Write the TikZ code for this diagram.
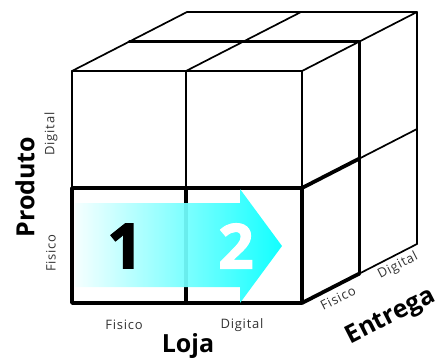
\documentclass[tikz,border=0pt]{standalone}
\usepackage{fontspec}
\setmainfont{Open Sans}
\newfontfamily\labelfont[LetterSpace=6]{Open Sans}
\newfontfamily\digitfont[FakeBold=2]{Open Sans Bold}
\usetikzlibrary{calc}
\begin{document}
\begin{tikzpicture}[x=1pt,y=-1pt,
  thinedge/.style={line width=1.7pt,line cap=round,line join=round},
  thickedge/.style={line width=3.8pt,line cap=round,line join=round},
  axislabel/.style={font=\bfseries\fontsize{25}{25}\selectfont,inner sep=0pt},
  ticklabel/.style={font=\labelfont\fontsize{13}{13}\selectfont,text=black!80,inner sep=0pt},
  digit/.style={font=\digitfont\fontsize{62}{62}\selectfont,inner sep=0pt}]
\useasboundingbox (0,0) rectangle (439,362);
% front face corners
\coordinate (A) at (72,71);  \coordinate (B) at (186,71);  \coordinate (C) at (302,71);
\coordinate (D) at (72,188); \coordinate (E) at (186,188); \coordinate (F) at (302,188);
\coordinate (G) at (72,303); \coordinate (H) at (186,303); \coordinate (I) at (302,303);
% half-depth and full-depth offsets
\coordinate (A1) at ($(A)+(57.5,-29.5)$); \coordinate (B1) at ($(B)+(57.5,-29.5)$);
\coordinate (C1) at ($(C)+(57.5,-29.5)$); \coordinate (F1) at ($(F)+(57.5,-29.5)$);
\coordinate (I1) at ($(I)+(57.5,-29.5)$);
\coordinate (A2) at ($(A)+(115,-59)$); \coordinate (B2) at ($(B)+(115,-59)$);
\coordinate (C2) at ($(C)+(115,-59)$); \coordinate (F2) at ($(F)+(115,-59)$);
\coordinate (I2) at ($(I)+(115,-59)$);
% thin edges
\draw[thinedge] (D) -- (A) -- (C) -- (F);
\draw[thinedge] (B) -- (E);
\draw[thinedge] (A) -- (A2) -- (C2) -- (I2);
\draw[thinedge] (B) -- (B2);
\draw[thinedge] (C) -- (C2);
\draw[thinedge] (F1) -- (F2);
\draw[thinedge] (I1) -- (I2);
% highlighted edges
\draw[thickedge] (D) rectangle (I);
\draw[thickedge] (E) -- (H);
\draw[thickedge] (A1) -- (C1) -- (I1);
\draw[thickedge] (F) -- (F1);
\draw[thickedge] (I) -- (I1);
% gradient arrow
\path[left color=cyan!4,right color=cyan,fill opacity=0.93]
  (75,203) coordinate (t0) -- (240,203) -- (240,189) -- (282,246) coordinate (tip)
  -- (240,303) -- (240,287) -- (75,287) -- cycle;
\node[digit,text=black] (one) at (125,246) {1};
\node[digit,text=white] (two) at (236,246) {2};
% axis labels
\node[axislabel,rotate=90] (produto) at (25,187) {Produto};
\node[ticklabel,rotate=90] (pd) at (51,134) {Digital};
\node[ticklabel,rotate=90] (pf) at (51,253) {Fisico};
\node[ticklabel] (lf) at (124,325) {Fisico};
\node[ticklabel] (ld) at (242,325) {Digital};
\node[axislabel] (loja) at (188,346) {Loja};
\node[ticklabel,rotate=27] (ef) at (338,298) {Fisico};
\node[ticklabel,rotate=27] (ed) at (398,266) {Digital};
\node[axislabel,rotate=27] (entrega) at (391,317) {Entrega};
\end{tikzpicture}
\end{document}
